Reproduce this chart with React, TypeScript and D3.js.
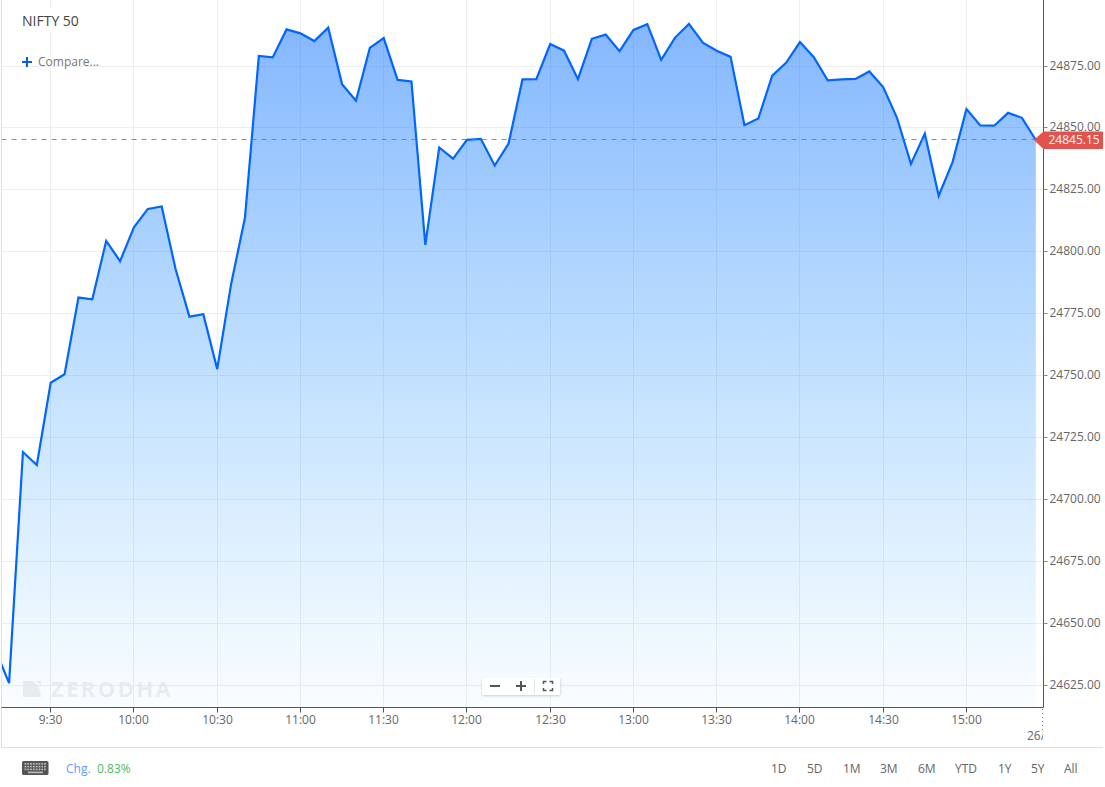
import * as d3 from 'd3';

// 5 minute closes, first one is 9:10
const startMinute = 9 * 60 + 10;
const closes = [
  24639.5, 24625.8, 24719.1, 24713.9, 24747.1, 24750.5, 24781.5, 24780.8, 24804.4, 24796.2,
  24809.9, 24817.3, 24818.3, 24793, 24773.8, 24774.8, 24752.6, 24786.9, 24813.7, 24879.1,
  24878.5, 24889.8, 24888.2, 24885.1, 24890.5, 24867.7, 24861, 24882.3, 24886.3, 24869.4,
  24868.8, 24802.8, 24842.1, 24837.6, 24845.2, 24845.6, 24834.8, 24843.7, 24869.6, 24869.7,
  24883.9, 24881.2, 24869.7, 24886, 24887.7, 24881, 24889.6, 24891.9, 24877.5, 24886.5,
  24892, 24884.4, 24881.2, 24878.7, 24851.1, 24853.8, 24871.1, 24876.3, 24884.7, 24878.6,
  24869.2, 24869.6, 24869.8, 24872.8, 24866.5, 24854, 24835.5, 24847.7, 24822.6, 24836.2,
  24857.6, 24851, 24850.9, 24856.1, 24854.1, 24845.15,
];
const priceTicks = [24625, 24650, 24675, 24700, 24725, 24750, 24775, 24800, 24825, 24850, 24875];
const timeTicks = ['9:30', '10:00', '10:30', '11:00', '11:30', '12:00', '12:30', '13:00', '13:30', '14:00', '14:30', '15:00'];
const lastPrice = 24845.15;
const ranges = ['1D', '5D', '1M', '3M', '6M', 'YTD', '1Y', '5Y', 'All'];
const rangeX = [771, 807, 843, 880, 918, 955, 998, 1031, 1064];

const width = 1105;
const height = 787;
const left = 1.5;
const right = 1043.5;
const bottom = 707.5;
const font = '"Open Sans", sans-serif';

const toMinute = (label: string) => {
  const [h, m] = label.split(':').map(Number);
  return h * 60 + m;
};

const x = d3.scaleLinear().domain([toMinute('9:30'), toMinute('15:00')]).range([50.7, 966.45]);
const y = d3.scaleLinear().domain([24625, 24875]).range([685.05, 66.05]);
const crisp = (v: number) => Math.floor(v) + 0.5;

const points = closes.map((c, i) => ({ minute: startMinute + i * 5, close: c }));
const line = d3
  .line<{ minute: number; close: number }>()
  .x((d) => x(d.minute))
  .y((d) => y(d.close));
const area = d3
  .area<{ minute: number; close: number }>()
  .x((d) => x(d.minute))
  .y0(bottom)
  .y1((d) => y(d.close));

const lastY = y(lastPrice);
const lastX = x(points[points.length - 1].minute);

const App = () => (
  <svg
    width={width}
    height={height}
    style={{ position: 'absolute', left: 0, top: 0, background: '#fff', fontFamily: font }}
  >
    <defs>
      <linearGradient id="fill" x1="0" y1="0" x2="0" y2="1">
        <stop offset="0%" stopColor="#0068ff" stopOpacity={0.48} />
        <stop offset="100%" stopColor="#0a9bff" stopOpacity={0.02} />
      </linearGradient>
      <clipPath id="plot">
        <rect x={left} y={0} width={right - left} height={bottom} />
      </clipPath>
      <clipPath id="dateClip">
        <rect x={1000} y={725} width={43} height={20} />
      </clipPath>
      <filter id="soft" x="-10%" y="-30%" width="120%" height="170%">
        <feDropShadow dx="0" dy="1" stdDeviation="1.2" floodColor="#000" floodOpacity="0.18" />
      </filter>
    </defs>

    {priceTicks.map((t) => (
      <line key={t} x1={left} x2={right} y1={crisp(y(t))} y2={crisp(y(t))} stroke="#eeeeee" />
    ))}
    {timeTicks.map((t) => (
      <line
        key={t}
        x1={crisp(x(toMinute(t)))}
        x2={crisp(x(toMinute(t)))}
        y1={0}
        y2={bottom}
        stroke="#eeeeee"
      />
    ))}

    <rect x={20} y={8} width={62} height={24} fill="#fff" />
    <rect x={20} y={55} width={82} height={11} fill="#fff" />

    <g clipPath="url(#plot)">
      <path d={area(points) ?? ''} fill="url(#fill)" />
      <path d={line(points) ?? ''} fill="none" stroke="#0066ff" strokeWidth={2.2} strokeLinejoin="miter" />
    </g>

    {/* watermark */}
    <path d="M23 681H33Q41 687 41 697H23ZM36 681h5v5z" fill="#e4e7ea" opacity={0.75} />
    <text x={51} y={697} fontSize={22} fontWeight={700} letterSpacing={2.4} fill="#e4e7ea" opacity={0.75}>
      ZERODHA
    </text>

    <line
      x1={left}
      x2={lastX}
      y1={crisp(lastY)}
      y2={crisp(lastY)}
      stroke="#dd4f4b"
      strokeOpacity={0.85}
      strokeDasharray="5 5"
    />

    {/* frame */}
    <line x1={left} x2={left} y1={0} y2={747} stroke="#e0e0e0" />
    <line x1={right} x2={right} y1={0} y2={bottom} stroke="#555555" />
    <line x1={left} x2={right} y1={bottom} y2={bottom} stroke="#555555" />
    <line x1={1} x2={1103} y1={747.5} y2={747.5} stroke="#e0e0e0" />

    {priceTicks.map((t) => (
      <g key={t}>
        <line x1={right} x2={right + 4} y1={crisp(y(t))} y2={crisp(y(t))} stroke="#888" />
        <text x={1049.5} y={crisp(y(t)) + 3} fontSize={12} fill="#666">
          {t.toFixed(2)}
        </text>
      </g>
    ))}
    {timeTicks.map((t) => (
      <g key={t}>
        <line
          x1={crisp(x(toMinute(t)))}
          x2={crisp(x(toMinute(t)))}
          y1={bottom}
          y2={bottom + 5}
          stroke="#555"
        />
        <text x={crisp(x(toMinute(t)))} y={724} fontSize={12} fill="#666" textAnchor="middle">
          {t}
        </text>
      </g>
    ))}

    <line x1={1042.5} x2={1042.5} y1={709} y2={731} stroke="#777" strokeDasharray="1 3" />
    <text x={1027} y={740} fontSize={12} fill="#666" clipPath="url(#dateClip)">
      26/
    </text>

    <path
      d={`M${lastX - 0.5} ${lastY} L${lastX + 8} ${lastY - 7.5} H1102 V${lastY + 8} H${lastX + 8} Z`}
      fill="#e2524f"
      stroke="#e2524f"
      strokeWidth={2}
      strokeLinejoin="round"
    />
    <text x={1048.5} y={lastY + 4.5} fontSize={12} fill="#fff">
      {lastPrice.toFixed(2)}
    </text>

    <text x={22} y={26} fontSize={14} fill="#444">
      NIFTY 50
    </text>
    <path d="M22 62h10M27 57v10" stroke="#0a5fd8" strokeWidth={2} />
    <text x={38} y={66} fontSize={12} fill="#777">
      Compare...
    </text>

    {/* zoom controls */}
    <rect x={482} y={678} width={78.5} height={17} rx={2} fill="#fff" filter="url(#soft)" />
    <path d="M490 686h10M516 686h10M521 681v10" stroke="#555" strokeWidth={2} />
    <line x1={534.5} x2={534.5} y1={679} y2={694} stroke="#e4e4e4" />
    <line x1={560.5} x2={560.5} y1={679} y2={694} stroke="#e4e4e4" />
    <path d="M543.5 684v-2.5h3M549.5 681.5h3v2.5M552.5 688v2.5h-3M546.5 690.5h-3V688" fill="none" stroke="#555" strokeWidth={1.5} />

    {/* footer */}
    <rect x={22} y={761} width={26.5} height={14} rx={1.5} fill="#555" />
    {d3.range(3).map((row) =>
      d3.range(8).map((col) => (
        <rect key={`${row}-${col}`} x={24.5 + col * 2.8} y={763 + row * 2.8} width={1.8} height={1.6} fill="#bbb" />
      )),
    )}
    <rect x={28} y={771.6} width={15} height={1.6} fill="#bbb" />
    <text x={66} y={773} fontSize={12} fill="#5c9dff">
      Chg.
    </text>
    <text x={97} y={773} fontSize={12} fill="#4fb95c">
      0.83%
    </text>
    {ranges.map((r, i) => (
      <text key={r} x={rangeX[i]} y={773} fontSize={12} fill="#666">
        {r}
      </text>
    ))}
  </svg>
);

export default App;
